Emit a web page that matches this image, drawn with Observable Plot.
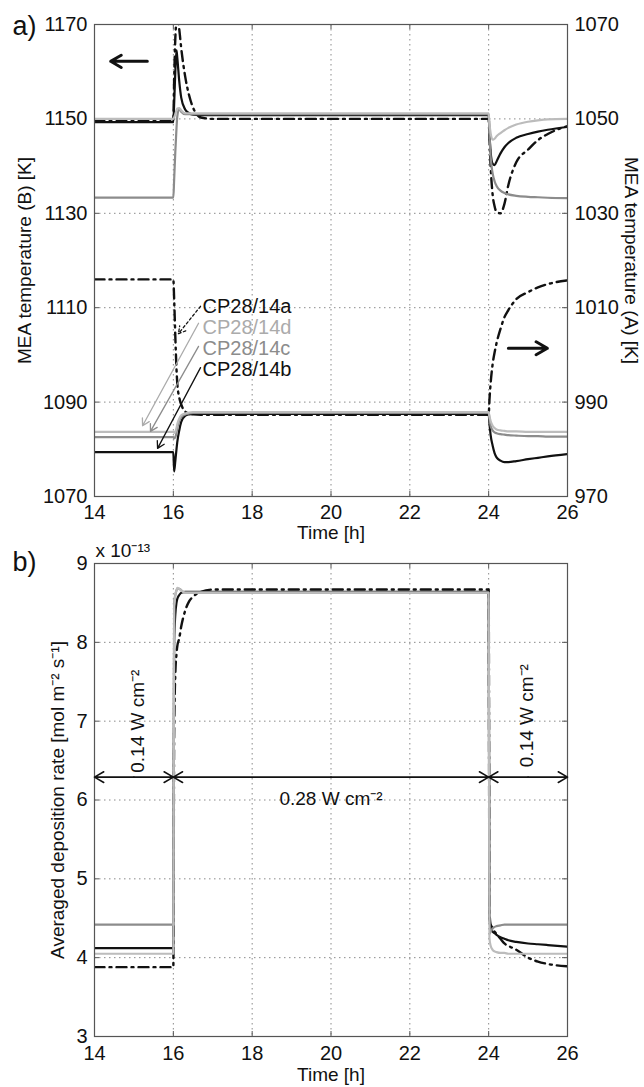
<!DOCTYPE html>
<html>
<head>
<meta charset="utf-8">
<script src="https://cdn.jsdelivr.net/npm/d3@7"></script>
<script src="https://cdn.jsdelivr.net/npm/@observablehq/plot@0.6"></script>
<style>
  body { margin: 0; background: #fff; }
  #chart { width: 644px; height: 1087px; position: relative; }
  #chart svg { display: block; overflow: visible; }
</style>
</head>
<body>
<div id="chart"></div>
<script>
// ---------- data ----------
const time = [14, 16, 16.02, 16.05, 16.08, 16.1, 16.15, 16.2, 16.3, 16.4, 16.5, 16.7, 17,
              24, 24.02, 24.05, 24.1, 24.15, 24.2, 24.3, 24.4, 24.5, 24.7, 25, 25.25, 25.5, 26];

// MEA temperature (B) [K] (left axis)
const tempB_a = [1149.8, 1149.8, 1158, 1167, 1171, 1172, 1169, 1165, 1159, 1155, 1152.4, 1150.3, 1150,
                 1150, 1146, 1140, 1134, 1131.5, 1130.3, 1130, 1132, 1136, 1140.8, 1143.5, 1145.5, 1146.8, 1148.5];
const tempB_b = [1149.3, 1149.3, 1153, 1160, 1164.5, 1163, 1158, 1154.5, 1152, 1151.2, 1150.9, 1150.8, 1150.8,
                 1150.8, 1147, 1143, 1140.5, 1140.2, 1141, 1142.7, 1144, 1144.9, 1146, 1146.8, 1147.3, 1147.7, 1148.3];
const tempB_c = [1133.3, 1133.3, 1137, 1143, 1148, 1150.5, 1152.2, 1151.5, 1151, 1151, 1151, 1151, 1151,
                 1151, 1147, 1142, 1138.5, 1136.8, 1135.8, 1134.8, 1134.3, 1134, 1133.7, 1133.5, 1133.4, 1133.3, 1133.2];
const tempB_d = [1150, 1150, 1150.3, 1151, 1151.8, 1152.2, 1152.3, 1151.8, 1151.2, 1151.2, 1151.2, 1151.2, 1151.2,
                 1151.2, 1149, 1147, 1145.6, 1145.8, 1146.3, 1147, 1147.6, 1148.1, 1148.8, 1149.4, 1149.7, 1149.9, 1150];

// MEA temperature (A) [K] (right axis)
const tempA_a = [1016, 1016, 1012, 1004, 997, 994, 991, 989.5, 988, 987.6, 987.4, 987.3, 987.3,
                 987.3, 990.5, 994, 998, 1000.5, 1002.5, 1005.5, 1008, 1009.5, 1011.8, 1013.3, 1014.3, 1015, 1015.8];
const tempA_b = [979.4, 979.4, 975.3, 977.5, 980, 981.5, 984, 985.8, 987.1, 987.4, 987.5, 987.5, 987.5,
                 987.5, 985.5, 983, 980.8, 979.2, 978.3, 977.6, 977.3, 977.3, 977.5, 977.9, 978.2, 978.5, 979];
const tempA_c = [982.6, 982.6, 982.3, 982.5, 983.5, 984.5, 986, 986.9, 987.4, 987.6, 987.7, 987.7, 987.7,
                 987.7, 986.5, 985, 984, 983.6, 983.4, 983.2, 983.1, 983, 982.9, 982.8, 982.8, 982.7, 982.7];
const tempA_d = [983.7, 983.7, 983.5, 983.7, 984.5, 985.3, 986.5, 987.2, 987.6, 987.8, 987.9, 987.9, 987.9,
                 987.9, 987, 986, 985, 984.5, 984.2, 984, 983.9, 983.8, 983.8, 983.7, 983.7, 983.7, 983.7];

// Averaged deposition rate [x 1e-13 mol m-2 s-1]
const rate_a = [3.88, 3.88, 6.8, 7.6, 7.85, 7.95, 8.05, 8.2, 8.4, 8.52, 8.58, 8.64, 8.67,
                8.67, 4.6, 4.42, 4.38, 4.33, 4.3, 4.24, 4.18, 4.15, 4.1, 4.0, 3.95, 3.92, 3.89];
const rate_b = [4.12, 4.12, 8.0, 8.35, 8.5, 8.55, 8.6, 8.63, 8.64, 8.64, 8.64, 8.64, 8.64,
                8.64, 4.5, 4.38, 4.33, 4.31, 4.29, 4.26, 4.24, 4.22, 4.2, 4.18, 4.17, 4.16, 4.14];
const rate_c = [4.42, 4.42, 8.5, 8.6, 8.66, 8.68, 8.68, 8.66, 8.63, 8.63, 8.63, 8.63, 8.63,
                8.63, 4.3, 4.33, 4.37, 4.39, 4.4, 4.41, 4.42, 4.42, 4.42, 4.42, 4.42, 4.42, 4.42];
const rate_d = [4.05, 4.05, 8.45, 8.6, 8.66, 8.69, 8.68, 8.66, 8.63, 8.63, 8.63, 8.63, 8.63,
                8.63, 4.25, 4.15, 4.1, 4.08, 4.07, 4.06, 4.06, 4.05, 4.05, 4.05, 4.05, 4.05, 4.05];

// axis ticks
const xTicks = [14, 16, 18, 20, 22, 24, 26];
const yTicksB = [1070, 1090, 1110, 1130, 1150, 1170];
const yTicksA = [970, 990, 1010, 1030, 1050, 1070];
const yTicksRate = [3, 4, 5, 6, 7, 8, 9];
const axisOffsetA = 100; // right axis (A) = left axis (B) - 100

// annotations (panel a)
const labelNames = ["CP28/14a", "CP28/14d", "CP28/14c", "CP28/14b"];
const labelT = [16.74, 16.74, 16.74, 16.74];
const labelY = [1110.2, 1105.7, 1101.3, 1096.8];
const pointerT1 = [16.69, 16.64, 16.64, 16.69];
const pointerY1 = [1110.3, 1106.7, 1101.8, 1097.3];
const pointerT2 = [16.13, 15.22, 15.42, 15.6];
const pointerY2 = [1104.5, 1085.0, 1083.8, 1080.2];
const sideArrowT1 = [15.34, 24.5];
const sideArrowT2 = [14.41, 25.49];
const sideArrowY = [1162.2, 1101.4];

// annotations (panel b)
const spanStart = [14, 16, 24];
const spanEnd = [16, 24, 26];
const spanY = 6.29;
const powerLabels = ["0.14 W cm\u207B\u00B2", "0.28 W cm\u207B\u00B2", "0.14 W cm\u207B\u00B2"];
const powerT = [15.09, 20.0, 24.98];
const powerY = [7.0, 6.02, 7.07];

// ---------- styles ----------
const BLACK = "#111";
const MID = "#8c8c8c";
const LIGHT = "#bcbcbc";
const seriesStyle = {
  a: {stroke: BLACK, strokeWidth: 2.4, strokeDasharray: "10,5,2,5"},
  b: {stroke: BLACK, strokeWidth: 2.2},
  c: {stroke: MID, strokeWidth: 2.2},
  d: {stroke: LIGHT, strokeWidth: 2.2}
};
const labelColors = [BLACK, "#ababab", MID, BLACK];
const FONT = "'Liberation Sans', Arial, Helvetica, sans-serif";
const TICK_FS = 20;
const LABEL_FS = 19;
const FRAME = "#555";

const rows = (vals, off = 0) => time.map((t, i) => ({t, v: vals[i] + off}));
const lineOf = (vals, key, off = 0) =>
  Plot.line(rows(vals, off), {x: "t", y: "v", curve: "monotone-x", clip: true, ...seriesStyle[key]});

const W = 644;
const ML = 94, MR = 77;
const common = {
  width: W, marginLeft: ML, marginRight: MR,
  x: {domain: [14, 26]},
  style: {fontFamily: FONT, fontSize: TICK_FS + "px", background: "transparent", color: "#111", overflow: "visible"}
};
const gridStyle = {stroke: "#8a8a8a", strokeOpacity: 1, strokeWidth: 1, strokeDasharray: "1.5,3.5"};
const plain = d => String(d);

// small inward tick marks on all four sides (MATLAB style)
function innerTicks(yTicks, plotH) {
  const plotW = W - ML - MR, len = 5;
  return [
    Plot.tickX(xTicks, {x: d => d, insetTop: plotH - len, stroke: FRAME}),
    Plot.tickX(xTicks, {x: d => d, insetBottom: plotH - len, stroke: FRAME}),
    Plot.tickY(yTicks, {y: d => d, insetRight: plotW - len, stroke: FRAME}),
    Plot.tickY(yTicks, {y: d => d, insetLeft: plotW - len, stroke: FRAME})
  ];
}

const pointerIdx = labelNames.map((d, i) => i);
const pointerArrow = (idx, extra) => Plot.arrow(idx, {
  x1: i => pointerT1[i], y1: i => pointerY1[i],
  x2: i => pointerT2[i], y2: i => pointerY2[i],
  stroke: i => labelColors[i], strokeWidth: 1.3, headLength: 9, ...extra
});

// ---------- panel a ----------
const HA = 545, MTA = 24, MBA = 49;
const pa = Plot.plot({
  ...common,
  height: HA, marginTop: MTA, marginBottom: MBA,
  y: {domain: [1070, 1170]},
  color: {type: "identity"},
  marks: [
    Plot.gridX(xTicks, gridStyle),
    Plot.gridY(yTicksB, gridStyle),
    ...innerTicks(yTicksB, HA - MTA - MBA),
    Plot.axisX(xTicks, {tickSize: 0, tickPadding: 8, label: null, fontSize: TICK_FS, tickFormat: plain}),
    Plot.axisY(yTicksB, {anchor: "left", tickSize: 0, tickPadding: 7, label: null, fontSize: TICK_FS, tickFormat: plain}),
    Plot.axisY(yTicksA.map(d => d + axisOffsetA), {anchor: "right", tickSize: 0, tickPadding: 7, label: null, fontSize: TICK_FS,
      tickFormat: d => String(d - axisOffsetA)}),
    lineOf(tempB_a, "a"), lineOf(tempB_b, "b"), lineOf(tempB_c, "c"), lineOf(tempB_d, "d"),
    lineOf(tempA_a, "a", axisOffsetA), lineOf(tempA_b, "b", axisOffsetA),
    lineOf(tempA_c, "c", axisOffsetA), lineOf(tempA_d, "d", axisOffsetA),
    Plot.frame({stroke: FRAME, strokeWidth: 1.2}),
    // pointer arrows from series labels (first one dotted)
    pointerArrow(pointerIdx.slice(0, 1), {strokeDasharray: "2.5,2.5"}),
    pointerArrow(pointerIdx.slice(1), {}),
    Plot.text(labelNames, {
      x: (d, i) => labelT[i], y: (d, i) => labelY[i], text: d => d,
      fill: (d, i) => labelColors[i], textAnchor: "start", fontSize: TICK_FS
    }),
    // side arrows indicating axis
    Plot.arrow(sideArrowY, {
      x1: (d, i) => sideArrowT1[i], x2: (d, i) => sideArrowT2[i], y1: d => d, y2: d => d,
      stroke: BLACK, strokeWidth: 3, headLength: 12
    }),
    Plot.text(["MEA temperature (B) [K]"], {frameAnchor: "left", dx: -70, rotate: -90, text: d => d,
      textAnchor: "middle", lineAnchor: "middle", fontSize: LABEL_FS}),
    Plot.text(["MEA temperature (A) [K]"], {frameAnchor: "right", dx: 64, rotate: 90, text: d => d,
      textAnchor: "middle", lineAnchor: "middle", fontSize: LABEL_FS}),
    Plot.text(["Time [h]"], {frameAnchor: "bottom", dy: 36, text: d => d,
      textAnchor: "middle", lineAnchor: "middle", fontSize: LABEL_FS}),
    Plot.text(["a)"], {frameAnchor: "top-left", dx: -82, dy: 2, text: d => d,
      textAnchor: "start", lineAnchor: "middle", fontSize: 27})
  ]
});

// ---------- panel b ----------
const HB = 542, MTB = 18, MBB = 51;
const spanMid = spanStart.map((s, i) => (s + spanEnd[i]) / 2);
const pb = Plot.plot({
  ...common,
  height: HB, marginTop: MTB, marginBottom: MBB,
  y: {domain: [3, 9]},
  marks: [
    Plot.gridX(xTicks, gridStyle),
    Plot.gridY(yTicksRate, gridStyle),
    ...innerTicks(yTicksRate, HB - MTB - MBB),
    Plot.axisX(xTicks, {tickSize: 0, tickPadding: 9, label: null, fontSize: TICK_FS, tickFormat: plain}),
    Plot.axisY(yTicksRate, {anchor: "left", tickSize: 0, tickPadding: 7, label: null, fontSize: TICK_FS, tickFormat: plain}),
    lineOf(rate_a, "a"), lineOf(rate_b, "b"), lineOf(rate_c, "c"), lineOf(rate_d, "d"),
    Plot.frame({stroke: FRAME, strokeWidth: 1.2}),
    // double-headed span arrows (drawn as two arrows from the middle)
    Plot.arrow(spanMid, {x1: d => d, x2: (d, i) => spanStart[i], y1: () => spanY, y2: () => spanY,
      stroke: BLACK, strokeWidth: 1.6, headLength: 10}),
    Plot.arrow(spanMid, {x1: d => d, x2: (d, i) => spanEnd[i], y1: () => spanY, y2: () => spanY,
      stroke: BLACK, strokeWidth: 1.6, headLength: 10}),
    Plot.text([powerLabels[0], powerLabels[2]], {
      x: (d, i) => [powerT[0], powerT[2]][i], y: (d, i) => [powerY[0], powerY[2]][i],
      text: d => d, rotate: -90, textAnchor: "middle", lineAnchor: "middle", fontSize: LABEL_FS
    }),
    Plot.text([powerLabels[1]], {
      x: () => powerT[1], y: () => powerY[1], text: d => d,
      textAnchor: "middle", lineAnchor: "middle", fontSize: LABEL_FS
    }),
    Plot.text(["Averaged deposition rate [mol m\u207B\u00B2 s\u207B\u00B9]"], {frameAnchor: "left", dx: -37, rotate: -90,
      text: d => d, textAnchor: "middle", lineAnchor: "middle", fontSize: LABEL_FS}),
    Plot.text(["Time [h]"], {frameAnchor: "bottom", dy: 38, text: d => d,
      textAnchor: "middle", lineAnchor: "middle", fontSize: LABEL_FS}),
    Plot.text(["x 10\u207B\u00B9\u00B3"], {frameAnchor: "top-left", dx: 1, dy: -13, text: d => d,
      textAnchor: "start", lineAnchor: "middle", fontSize: LABEL_FS}),
    Plot.text(["b)"], {frameAnchor: "top-left", dx: -82, dy: -1, text: d => d,
      textAnchor: "start", lineAnchor: "middle", fontSize: 27})
  ]
});

const chart = document.getElementById("chart");
chart.appendChild(pa);
chart.appendChild(pb);
</script>
</body>
</html>
